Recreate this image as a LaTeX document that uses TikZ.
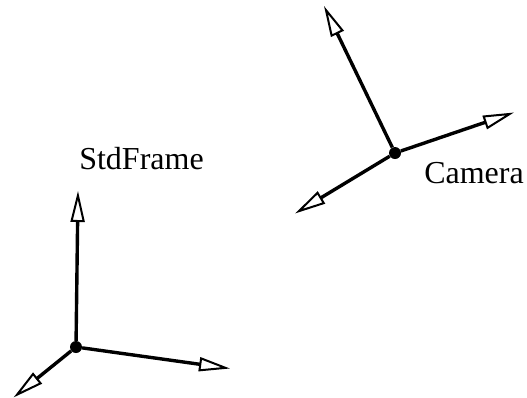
\documentclass[tikz,border=0pt]{standalone}
\usepackage{fontspec}
\setmainfont{Liberation Serif}
\usetikzlibrary{arrows.meta}
\tikzset{
  axis/.style={line width=3.4pt,-{Triangle[open,length=31pt,width=14pt,line width=2pt]}},
  origin/.style={circle,fill=black,inner sep=0pt,minimum size=12pt},
  lbl/.style={inner sep=0pt,font=\fontsize{32}{32}\selectfont,anchor=base}
}
\begin{document}
\begin{tikzpicture}[x=1pt,y=-1pt]
\useasboundingbox (0,0) rectangle (527,397);
\node[origin] (camo) at (395,153) {};
\coordinate (camup) at (324,6);
\coordinate (camright) at (514,112.5);
\coordinate (camleft) at (295,213.5);
\draw[axis] (camo) -- (camup);
\draw[axis] (camo) -- (camright);
\draw[axis] (camo) -- (camleft);
\node[origin] (stdo) at (76,347) {};
\coordinate (stdup) at (78,191);
\coordinate (stdright) at (230,368.5);
\coordinate (stdleft) at (13.5,397.5);
\draw[axis] (stdo) -- (stdup);
\draw[axis] (stdo) -- (stdright);
\draw[axis] (stdo) -- (stdleft);
\node[lbl] (camlabel) at (474,183) {Camera};
\node[lbl] (stdlabel) at (141.5,169) {StdFrame};
\end{tikzpicture}
\end{document}
